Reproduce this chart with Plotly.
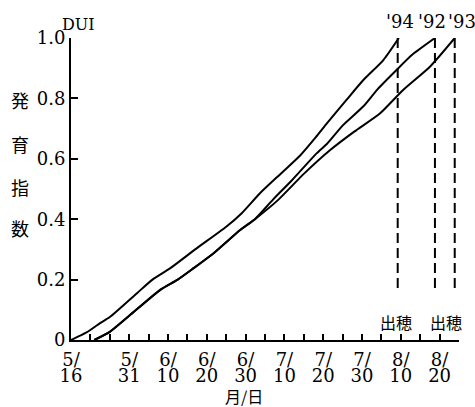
import plotly.graph_objects as go

# ---- data (x = days after 5/16, y = DUI) ----
days94 = [0, 4, 7.5, 10, 17, 21, 25.5, 32, 40, 44, 48.7, 54, 59, 63, 66, 71, 75.3, 80.5, 84.5]
dui94 = [0, 0.025, 0.056, 0.076, 0.155, 0.2, 0.237, 0.3, 0.375, 0.42, 0.486, 0.55, 0.61, 0.67, 0.718, 0.795, 0.86, 0.927, 1.0]

days92 = [6, 10, 15, 23, 27.5, 31.5, 37, 43.6, 47.4, 52, 57, 63.3, 66, 70, 75.3, 79, 83.9, 88, 93.8]
dui92 = [0, 0.027, 0.08, 0.166, 0.2, 0.237, 0.29, 0.364, 0.4, 0.464, 0.53, 0.618, 0.65, 0.71, 0.773, 0.83, 0.894, 0.945, 1.0]

days93 = [6, 10, 15, 23, 27.5, 31.5, 37, 43.6, 47.4, 53.4, 60, 66.8, 73, 79.6, 85.6, 92.5, 98.9]
dui93 = [0, 0.027, 0.08, 0.166, 0.2, 0.237, 0.29, 0.364, 0.4, 0.464, 0.55, 0.629, 0.69, 0.75, 0.828, 0.905, 1.0]

years = ["'94", "'92", "'93"]
heading_day = [84.2, 93.8, 98.9]
year_label_x = [84.8, 93.0, 100.8]
dash_bottom = 0.165

heading_label = "出穂"
heading_label_x = [83.8, 96.6]

X_MAX = 100
tick_days = list(range(0, 101, 5))
label_map_month = {0: "5/", 15: "5/", 25: "6/", 35: "6/", 45: "6/", 55: "7/", 65: "7/", 75: "7/", 85: "8/", 95: "8/"}
label_map_day = {0: "16", 15: "31", 25: "10", 35: "20", 45: "30", 55: "10", 65: "20", 75: "30", 85: "10", 95: "20"}
month_text = [label_map_month.get(d, "") for d in tick_days]
day_text = [label_map_day.get(d, "") for d in tick_days]

y_ticks = [0, 0.2, 0.4, 0.6, 0.8, 1.0]
y_ticktext = ["0", "0.2", "0.4", "0.6", "0.8", "1.0"]

ylabel_chars = ["発", "育", "指", "数"]
ylabel_y = [0.795, 0.648, 0.507, 0.371]

SERIF = "DejaVu Serif"
CJK = "Noto Sans CJK JP"
TICK_SIZE = 18

fig = go.Figure()
line = dict(color="black", width=2, shape="spline", smoothing=0.6)
for xs, ys in [(days94, dui94), (days92, dui92), (days93, dui93)]:
    fig.add_trace(go.Scatter(x=xs, y=ys, mode="lines", line=line, showlegend=False,
                             hoverinfo="skip", cliponaxis=False))

for d in heading_day:
    fig.add_trace(go.Scatter(x=[d, d], y=[1.0, dash_bottom], mode="lines",
                             line=dict(color="black", width=2, dash="10px,5px"),
                             showlegend=False, hoverinfo="skip", cliponaxis=False))

# invisible trace for second-line axis
fig.add_trace(go.Scatter(x=[0, X_MAX], y=[0, 0], xaxis="x2", mode="lines",
                         line=dict(width=0), showlegend=False, hoverinfo="skip"))

def ann(x, y, text, family, size):
    return dict(x=x, y=y, xref="paper", yref="paper", text=text, showarrow=False,
                xanchor="center", yanchor="middle",
                font=dict(family=family, size=size, color="black"))

annotations = []
for t, x in zip(years, year_label_x):
    annotations.append(ann(x / X_MAX, 1.053, t, SERIF, 18))
for x in heading_label_x:
    annotations.append(ann(x / X_MAX, 0.06, heading_label, CJK, 16))
for c, y in zip(ylabel_chars, ylabel_y):
    annotations.append(ann(-0.131, y, c, CJK, 18))
annotations.append(ann(1.9 / X_MAX, 1.045, "DUI", SERIF, 16))
annotations.append(ann(44.6 / X_MAX, -0.186, "月/日", CJK, 16))

tickfont = dict(family=SERIF, size=TICK_SIZE, color="black")
fig.update_layout(
    width=475, height=407,
    margin=dict(l=71, r=16, t=38, b=67),
    paper_bgcolor="white", plot_bgcolor="white",
    showlegend=False,
    font=dict(family=SERIF, color="black"),
    annotations=annotations,
    xaxis=dict(range=[0, X_MAX], tickmode="array", tickvals=tick_days, ticktext=month_text,
               ticks="inside", ticklen=6, tickwidth=1.5, tickcolor="black",
               showline=True, linecolor="black", linewidth=2, showgrid=False, zeroline=False,
               tickfont=tickfont, tickangle=0, ticklabelstandoff=2),
    xaxis2=dict(range=[0, X_MAX], overlaying="x", anchor="y", side="bottom",
                tickmode="array", tickvals=tick_days, ticktext=day_text, ticks="",
                showline=False, showgrid=False, zeroline=False, ticklabelstandoff=23,
                tickfont=tickfont, tickangle=0),
    yaxis=dict(range=[0, 1.0], tickmode="array", tickvals=y_ticks, ticktext=y_ticktext,
               ticks="inside", ticklen=7, tickwidth=1.5, tickcolor="black",
               showline=True, linecolor="black", linewidth=2, showgrid=False, zeroline=False,
               tickfont=tickfont),
)

fig.write_html("out.html")
